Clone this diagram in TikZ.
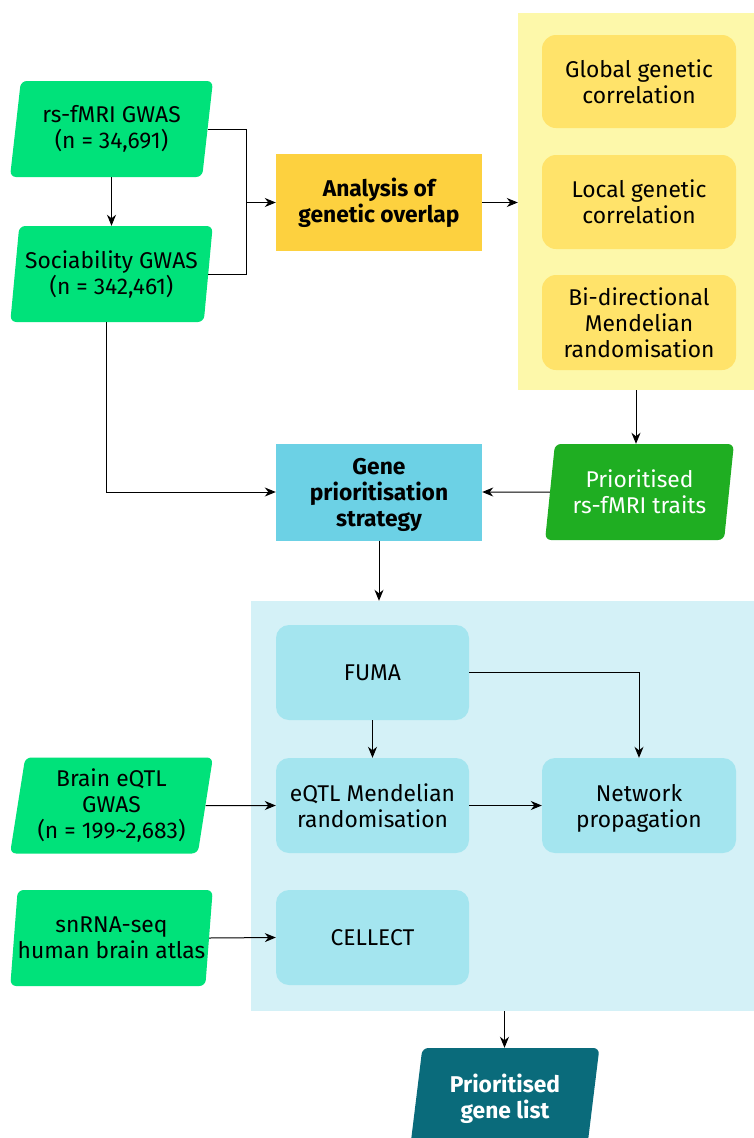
\documentclass[tikz,border=0pt]{standalone}
\usepackage{fontspec}
\setmainfont{Fira Sans}
\usetikzlibrary{shapes.geometric,arrows.meta,calc}
\definecolor{ingreen}{HTML}{00E27A}
\definecolor{trgreen}{HTML}{1FAE22}
\definecolor{anaor}{HTML}{FDD13F}
\definecolor{ypan}{HTML}{FDF8AA}
\definecolor{ybox}{HTML}{FFE36A}
\definecolor{genebl}{HTML}{6CD1E5}
\definecolor{bpan}{HTML}{D4F1F7}
\definecolor{bbox}{HTML}{A4E5EF}
\definecolor{teal}{HTML}{0A6B7B}
\newcommand\mainfs{\fontsize{22.8}{26}\selectfont}
\tikzset{
  conn/.style={draw=black, line width=1pt},
  arr/.style={conn, -{Stealth[length=11pt,width=9pt,inset=3.5pt]}},
  para/.style={trapezium, trapezium left angle=80, trapezium right angle=100,
    trapezium stretches=true, minimum height=96pt, inner sep=0pt,
    rounded corners=6pt, align=center, font=\mainfs},
  inpara/.style={para, fill=ingreen, minimum width=203pt},
  sqbox/.style={rectangle, minimum width=206pt, minimum height=97pt, inner sep=0pt, align=center, font=\mainfs\bfseries},
  ybx/.style={rectangle, rounded corners=14pt, fill=ybox, minimum width=194pt, inner sep=0pt, align=center, font=\mainfs},
  bbx/.style={rectangle, rounded corners=13pt, fill=bbox, minimum width=193pt, minimum height=95pt, inner sep=0pt, align=center, font=\mainfs},
}
\begin{document}
\begin{tikzpicture}[x=1pt,y=-1pt]
\useasboundingbox[fill=white] (0,0) rectangle (754,1138);
% panels
\node[rectangle, fill=ypan, minimum width=236pt, minimum height=377pt, inner sep=0pt] (ypanel) at (636,201.5) {};
\node[rectangle, fill=bpan, minimum width=503pt, minimum height=410pt, inner sep=0pt] (bpanel) at (502.5,806) {};
% inputs
\node[inpara] (rs) at (111.5,129) {rs-fMRI GWAS\\(n = 34,691)};
\node[inpara] (soc) at (111.5,274) {Sociability GWAS\\(n = 342,461)};
\node[inpara] (eqg) at (111.5,805.5) {Brain eQTL\\GWAS\\(n = 199\textasciitilde2,683)};
\node[inpara] (sn) at (111.5,938) {snRNA-seq\\human brain atlas};
% main boxes
\node[sqbox, fill=anaor] (ana) at (379,202.5) {Analysis of\\genetic overlap};
\node[sqbox, fill=genebl, text depth=0pt] (gene) at (379,492) {Gene\\prioritisation\\strategy};
% yellow inner
\node[ybx, minimum height=93pt] (glob) at (639,81.5) {Global genetic\\correlation};
\node[ybx, minimum height=94pt] (loc) at (639,202) {Local genetic\\correlation};
\node[ybx, minimum height=95pt] (bi) at (639,322.5) {Bi-directional\\Mendelian\\randomisation};
% traits
\node[para, fill=trgreen, minimum width=189pt, text=white] (traits) at (639.5,492) {Prioritised\\rs-fMRI traits};
% blue inner
\node[bbx] (fuma) at (372.5,672.5) {FUMA};
\node[bbx] (emr) at (372.5,805.5) {eQTL Mendelian\\randomisation};
\node[bbx, minimum width=194pt, text depth=0pt] (net) at (639,805.5) {Network\\propagation};
\node[bbx] (cell) at (372.5,937.5) {CELLECT};
% output
\node[para, fill=teal, minimum width=189pt, text=white, font=\mainfs\bfseries, text depth=0pt] (glist) at (505,1096) {Prioritised\\gene list};
% connectors
\coordinate (j1) at (246,202.5);
\draw[conn] (rs.east) -| (j1);
\draw[conn] (soc.east) -| (j1);
\draw[arr] (j1) -- (ana.west);
\draw[arr] (rs.center |- rs.south) -- (soc.center |- soc.north);
\draw[arr] (ana.east) -- (ana.east -| ypanel.west);
\draw[arr] (ypanel.south) -- (ypanel.south |- traits.north);
\draw[arr] (traits.west) -- (gene.east);
\draw[arr] ([xshift=-5.5pt]soc.south) |- (gene.west);
\draw[arr] (gene.south) -- (gene.south |- bpanel.north);
\draw[arr] (fuma.south) -- (emr.north);
\draw[arr] (fuma.east) -| (net.north);
\draw[arr] (emr.east) -- (net.west);
\draw[arr] (eqg.east) -- (emr.west);
\draw[arr] (sn.east) -- (cell.west);
\draw[arr] ([xshift=2pt]bpanel.south) -- ([xshift=2pt]bpanel.south |- glist.north);
\end{tikzpicture}
\end{document}
